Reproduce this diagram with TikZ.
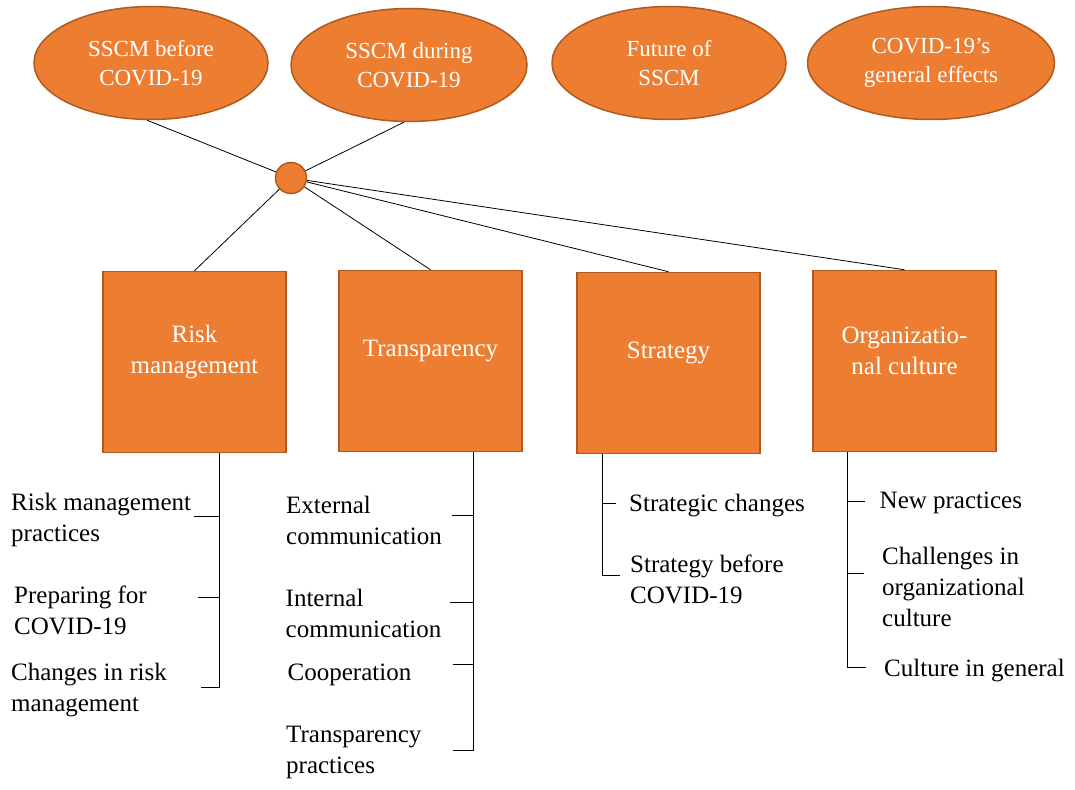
\documentclass[tikz,border=0pt]{standalone}
\usepackage{fontspec}
\setmainfont{Liberation Serif}
\usetikzlibrary{shapes.geometric}
\definecolor{accentorange}{HTML}{ED7D31}
\definecolor{orangeedge}{HTML}{AE5A21}

\begin{document}
\begin{tikzpicture}[x=1pt,y=-1pt,
  font=\fontsize{25}{31}\selectfont,
  theme/.style={ellipse,draw=orangeedge,fill=accentorange,line width=1.5pt,
                text=white,align=center,inner sep=0pt,
                minimum width=234pt,minimum height=113pt,
                font=\fontsize{23}{29}\selectfont},
  catbox/.style={draw=orangeedge,fill=accentorange,line width=1.5pt,
                 minimum width=183pt,minimum height=181pt,inner sep=0pt},
  cattext/.style={text=white,align=center,inner sep=0pt,yshift=10pt},
  hub/.style={circle,draw=orangeedge,fill=accentorange,line width=1.5pt,
              minimum size=31pt,inner sep=0pt},
  item/.style={anchor=west,align=left,inner sep=0pt},
  link/.style={line width=0.8pt}]
  \useasboundingbox (0,0) rectangle (1075,789);

  % themes
  \node[theme] (before) at (151,63) {SSCM before\\COVID-19};
  \node[theme,minimum width=236pt] (during) at (409,65) {SSCM during\\COVID-19};
  \node[theme] (future) at (669,63) {Future of\\SSCM};
  \node[theme,minimum width=247pt] (effects) at (931,63)
    {COVID-19's\\general effects};

  \node[hub] (hub) at (291,178) {};

  % categories
  \node[catbox,label={[cattext]center:Risk\\management}] (risk) at (194.5,362) {};
  \node[catbox,label={[cattext]center:Transparency}] (transp) at (430.5,361) {};
  \node[catbox,label={[cattext]center:Strategy}] (strat) at (668.5,363) {};
  \node[catbox,label={[cattext]center:Organizatio-\\nal culture}] (culture) at (904.5,361) {};

  \draw[link] (before.-94) -- (hub);
  \draw[link] (during.-95) -- (hub);
  \draw[link] (hub) -- (risk.north);
  \draw[link] (hub) -- (transp.north);
  \draw[link] (hub) -- (strat.north);
  \draw[link] (hub) -- (culture.north);

  % risk management
  \coordinate (rbot) at (219,687);
  \coordinate (r1) at (194,516);
  \coordinate (r2) at (198,597);
  \coordinate (r3) at (201,687);
  \draw[link] (risk.south -| rbot) -- (rbot) -- (r3);
  \draw[link] (r1) -- (r1 -| rbot);
  \draw[link] (r2) -- (r2 -| rbot);
  \node[item] (rpract) at (11,520) {Risk management\\practices};
  \node[item] (rprep) at (14,610) {Preparing for\\COVID-19};
  \node[item] (rchange) at (11,690) {Changes in risk\\management};

  % transparency
  \coordinate (tbot) at (473,750);
  \coordinate (t1) at (452,515);
  \coordinate (t2) at (450,602);
  \coordinate (t3) at (453,664);
  \coordinate (t4) at (453,750);
  \draw[link] (transp.south -| tbot) -- (tbot) -- (t4);
  \draw[link] (t1) -- (t1 -| tbot);
  \draw[link] (t2) -- (t2 -| tbot);
  \draw[link] (t3) -- (t3 -| tbot);
  \node[item] (text) at (286,520) {External\\communication};
  \node[item] (tint) at (285.5,613.5) {Internal\\communication};
  \node[item] (tcoop) at (287.5,675) {Cooperation};
  \node[item] (tpract) at (286,752) {Transparency\\practices};

  % strategy
  \coordinate (sbot) at (602,575);
  \coordinate (s1) at (616,503);
  \coordinate (s2) at (620,575);
  \draw[link] (strat.south -| sbot) -- (sbot) -- (s2);
  \draw[link] (s1 -| sbot) -- (s1);
  \node[item] (schange) at (629,506) {Strategic changes};
  \node[item] (sbefore) at (630,579) {Strategy before\\COVID-19};

  % organizational culture
  \coordinate (obot) at (847,667);
  \coordinate (o1) at (865,501);
  \coordinate (o2) at (864,573);
  \coordinate (o3) at (866,667);
  \draw[link] (culture.south -| obot) -- (obot) -- (o3);
  \draw[link] (o1 -| obot) -- (o1);
  \draw[link] (o2 -| obot) -- (o2);
  \node[item] (onew) at (879.5,503) {New practices};
  \node[item] (ochall) at (882,587) {Challenges in\\organizational\\culture};
  \node[item] (ogen) at (884,671) {Culture in general};
\end{tikzpicture}
\end{document}
